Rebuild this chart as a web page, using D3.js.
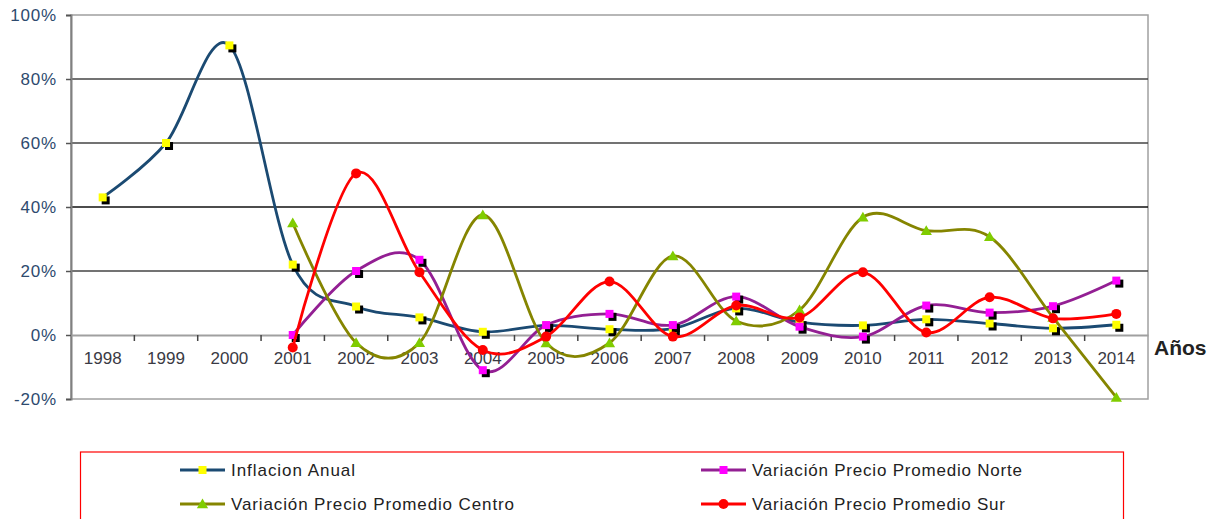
<!DOCTYPE html>
<html>
<head>
<meta charset="utf-8">
<script src="https://cdn.jsdelivr.net/npm/d3@7"></script>
<style>
  body { margin: 0; background: #fff; }
  text { font-family: "Liberation Sans", Arial, sans-serif; }
</style>
</head>
<body>
<div id="chart"></div>
<script>
// chart data (percent values)
var years = ["1998","1999","2000","2001","2002","2003","2004","2005","2006","2007","2008","2009","2010","2011","2012","2013","2014"];
var inflacion = [43, 60, 90.5, 22, 8.9, 5.5, 1.0, 3.0, 1.8, 2.0, 8.3, 4.0, 3.0, 4.9, 3.6, 2.1, 3.2];
var norte = [null, null, null, 0, 20, 23.5, -11, 3.1, 6.6, 3.1, 12, 2.6, -0.5, 9.2, 7.0, 9.0, 17];
var centro = [null, null, null, 35, -2.4, -2.4, 37.5, -2.5, -2.5, 24.7, 4.4, 7.8, 36.8, 32.6, 30.7, 5.5, -19.5];
var sur = [null, null, null, -3.9, 50.5, 19.6, -4.7, -0.5, 16.7, -0.5, 9.2, 5.5, 19.6, 0.8, 11.8, 5.2, 6.6];
var yTicks = [-20, 0, 20, 40, 60, 80, 100];
var seriesNames = ["Inflacion Anual", "Variación Precio Promedio Norte", "Variación Precio Promedio Centro", "Variación Precio Promedio Sur"];

var svgWidth = 1217;
var svgHeight = 519;
var margin = { top: 15, right: 69, bottom: 120, left: 71 };
var chartWidth = svgWidth - margin.left - margin.right;
var chartHeight = svgHeight - margin.top - margin.bottom;

var svg = d3.select("#chart")
    .append("svg")
    .attr("width", svgWidth)
    .attr("height", svgHeight);

var chartGroup = svg.append("g")
    .attr("transform", `translate(${margin.left}, ${margin.top})`);

// scales
var xScale = d3.scaleBand().domain(years).range([0, chartWidth]);
var yScale = d3.scaleLinear().domain([-20, 100]).range([chartHeight, 0]);
var xMid = function(yr) { return xScale(yr) + xScale.bandwidth() / 2; };

// plot border
chartGroup.append("rect")
    .attr("width", chartWidth)
    .attr("height", chartHeight)
    .attr("fill", "none")
    .attr("stroke", "#a0a0a0")
    .attr("stroke-width", 1.5);

// gridlines
chartGroup.selectAll(".grid")
    .data(yTicks.filter(d => d > 0 && d < 100))
    .enter()
    .append("line")
    .attr("x1", 0)
    .attr("x2", chartWidth)
    .attr("y1", d => yScale(d))
    .attr("y2", d => yScale(d))
    .attr("stroke", d => d == 40 ? "#111" : "#444")
    .attr("stroke-width", 1.5);

// y axis
var leftAxis = d3.axisLeft(yScale)
    .tickValues(yTicks)
    .tickFormat(d => d + "%")
    .tickSize(5)
    .tickPadding(9);

var yAxisG = chartGroup.append("g").call(leftAxis);
yAxisG.select(".domain").attr("stroke", "#808080").attr("stroke-width", 2);
yAxisG.selectAll(".tick line").attr("stroke", "#555").attr("stroke-width", 1.5);
yAxisG.selectAll(".tick text")
    .attr("fill", "#2e4a6e")
    .style("font-size", "17px")
    .style("letter-spacing", "0.8px");

// x axis at 0
var bottomAxis = d3.axisBottom(xScale).tickSize(0).tickPadding(17);
var xAxisG = chartGroup.append("g")
    .attr("transform", `translate(0, ${yScale(0)})`)
    .call(bottomAxis);
xAxisG.select(".domain").attr("stroke", "#a0a0a0").attr("stroke-width", 2);
xAxisG.selectAll(".tick text")
    .attr("fill", "#3a3a44")
    .style("font-size", "17px");

chartGroup.selectAll(".xtick")
    .data(years.slice(1))
    .enter()
    .append("line")
    .attr("x1", d => xScale(d))
    .attr("x2", d => xScale(d))
    .attr("y1", yScale(0))
    .attr("y2", yScale(0) + 6)
    .attr("stroke", "#444")
    .attr("stroke-width", 1.5);

chartGroup.append("text")
    .attr("x", chartWidth + 6)
    .attr("y", yScale(0) + 20)
    .attr("font-weight", "bold")
    .style("font-size", "21px")
    .attr("fill", "#222")
    .text("Años");

// series
var series = [
    { name: seriesNames[0], values: inflacion, line: "#1b4a72", fill: "#ffff00", shape: "square", shadow: true },
    { name: seriesNames[1], values: norte, line: "#931f93", fill: "#ff00ff", shape: "square", shadow: true },
    { name: seriesNames[2], values: centro, line: "#858500", fill: "#80cc00", shape: "triangle", shadow: false },
    { name: seriesNames[3], values: sur, line: "#ff0000", fill: "#ff0000", shape: "circle", shadow: false }
];

var lineGen = d3.line()
    .defined(d => d.v != null)
    .x(d => xMid(d.year))
    .y(d => yScale(d.v))
    .curve(d3.curveCatmullRom.alpha(0));

function drawMarker(g, s, cx, cy) {
    if (s.shape == "square") {
        if (s.shadow) {
            g.append("rect").attr("x", cx - 4 + 3).attr("y", cy - 4 + 3)
                .attr("width", 8).attr("height", 8).attr("fill", "#000");
        }
        g.append("rect").attr("x", cx - 4).attr("y", cy - 4)
            .attr("width", 8).attr("height", 8).attr("fill", s.fill);
    } else if (s.shape == "triangle") {
        g.append("path")
            .attr("d", d3.symbol().type(d3.symbolTriangle).size(55)())
            .attr("transform", `translate(${cx}, ${cy + 1})`)
            .attr("fill", s.fill);
    } else {
        g.append("circle").attr("cx", cx).attr("cy", cy).attr("r", 5).attr("fill", s.fill);
    }
}

series.forEach(function(s) {
    var pts = years.map((yr, i) => ({ year: yr, v: s.values[i] }));
    chartGroup.append("path")
        .datum(pts)
        .attr("d", lineGen)
        .attr("fill", "none")
        .attr("stroke", s.line)
        .attr("stroke-width", 2.8);
    var mg = chartGroup.append("g");
    pts.filter(p => p.v != null).forEach(function(p) {
        drawMarker(mg, s, xMid(p.year), yScale(p.v));
    });
});

// legend
var legend = svg.append("g");
legend.append("rect")
    .attr("x", 80.5)
    .attr("y", 452)
    .attr("width", 1043)
    .attr("height", 90)
    .attr("fill", "none")
    .attr("stroke", "#ff0000")
    .attr("stroke-width", 1.2);

var legendPos = [
    { x: 180, y: 470, w: 124 },
    { x: 701, y: 470, w: 270 },
    { x: 180, y: 504, w: 283 },
    { x: 701, y: 504, w: 253 }
];

series.forEach(function(s, i) {
    var p = legendPos[i];
    legend.append("line")
        .attr("x1", p.x).attr("x2", p.x + 45)
        .attr("y1", p.y).attr("y2", p.y)
        .attr("stroke", s.line)
        .attr("stroke-width", 3);
    var sh = Object.assign({}, s, { shadow: false });
    drawMarker(legend, sh, p.x + 22.5, p.y);
    legend.append("text")
        .attr("x", p.x + 51)
        .attr("y", p.y + 6)
        .attr("fill", "#222")
        .attr("textLength", p.w)
        .attr("lengthAdjust", "spacing")
        .style("font-size", "17px")
        .text(s.name);
});
</script>
</body>
</html>
